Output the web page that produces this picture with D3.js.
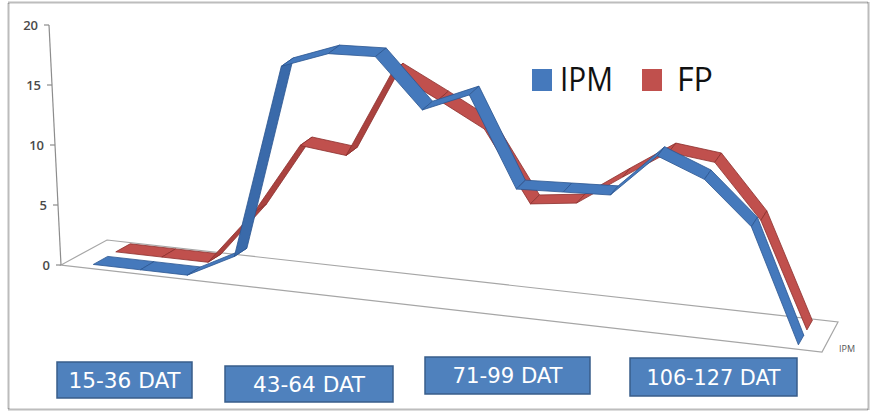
<!DOCTYPE html>
<html>
<head>
<meta charset="utf-8">
<script src="https://cdn.jsdelivr.net/npm/d3@7/dist/d3.min.js"></script>
<style>
  html, body { margin: 0; padding: 0; background: #fff; }
  svg { display: block; }
</style>
</head>
<body>
<svg id="chart" width="877" height="414"></svg>
<script>
// Sampling days (days after transplanting), one per point on each ribbon
const days = [15, 22, 29, 36, 43, 50, 57, 64, 71, 78, 85, 92, 99, 106, 113, 120];

// Series values
const ipm = [0, 0, 0, 2, 18.3, 19.8, 20, 16, 17.7, 10.3, 10.5, 10.7, 14.4, 12.9, 9.4, 0];
const fp  = [0, 0, 0, 4.6, 10.6, 10.2, 17.6, 15.7, 13.7, 7.9, 8.4, 11.0, 13.5, 13.1, 8.7, 0];

const seriesNames = ["IPM", "FP"];
const valueTicks = [0, 5, 10, 15, 20];
const periods = ["15-36 DAT", "43-64 DAT", "71-99 DAT", "106-127 DAT"];

// ---- layout ----
const svg = d3.select("#chart");
const W = 877, H = 414;

// floor of the 3-D plot box: back-left, back-right, front-right, front-left
const floor = {
  BL: [107, 240], BR: [838, 322],
  FR: [822, 352], FL: [61, 265]
};
const axisLean = -0.05;      // sideways drift of the value axis per pixel of height
const ribbonDepth = 0.32;    // width of each ribbon along the depth axis

const palette = {
  IPM: { face: "#4579BC", back: "#3A6AAA", edge: "#2B5690" },
  FP:  { face: "#C0504D", back: "#AA423F", edge: "#8C2F2C" }
};

// scales
const xCat = d3.scalePoint().domain(days).range([0, 1]).padding(0.55);
const zDepth = d3.scaleOrdinal().domain(["FP", "IPM"]).range([0.2, 0.7]);
const yVal = d3.scaleLinear().domain([0, 20]).range([0, 240]);

// point on the floor plane (u along categories, w from back 0 to front 1)
function floorPt(u, w) {
  const bx = floor.BL[0] + (floor.BR[0] - floor.BL[0]) * u;
  const by = floor.BL[1] + (floor.BR[1] - floor.BL[1]) * u;
  const fx = floor.FL[0] + (floor.FR[0] - floor.FL[0]) * u;
  const fy = floor.FL[1] + (floor.FR[1] - floor.FL[1]) * u;
  return [bx + (fx - bx) * w, by + (fy - by) * w];
}
function project(u, w, v) {
  const p = floorPt(u, w);
  return [p[0], p[1] - yVal(v)];
}

// outer dotted frame
svg.append("rect")
  .attr("x", 8.5).attr("y", 2.5).attr("width", 860).attr("height", 407)
  .attr("fill", "#fff")
  .attr("stroke", "#7a7a7a").attr("stroke-width", 2)
  .attr("stroke-dasharray", "1,1");

// floor outline
const floorPoly = [floor.BL, floor.BR, floor.FR, floor.FL];
svg.append("path")
  .attr("d", "M" + floorPoly.map(p => p.join(",")).join("L") + "Z")
  .attr("fill", "none")
  .attr("stroke", "#a6a6a6").attr("stroke-width", 1.2);

// value axis at the front-left corner
const axisG = svg.append("g").attr("class", "value-axis");
function axisPt(v) {
  const h = yVal(v);
  return [floor.FL[0] + axisLean * h, floor.FL[1] - h];
}
const a0 = axisPt(0), a1 = axisPt(20);
axisG.append("line")
  .attr("x1", a0[0]).attr("y1", a0[1]).attr("x2", a1[0]).attr("y2", a1[1])
  .attr("stroke", "#8c8c8c").attr("stroke-width", 1.2);
valueTicks.forEach(t => {
  const p = axisPt(t);
  axisG.append("line")
    .attr("x1", p[0] - 5).attr("y1", p[1]).attr("x2", p[0]).attr("y2", p[1])
    .attr("stroke", "#8c8c8c").attr("stroke-width", 1.2);
  axisG.append("text")
    .attr("x", p[0] - 11).attr("y", p[1])
    .attr("dy", "0.35em")
    .attr("text-anchor", "end")
    .attr("font-family", "'Open Sans', 'Liberation Sans', sans-serif")
    .attr("font-size", 13)
    .attr("font-weight", 600)
    .attr("fill", "#4a4a4a")
    .text(t);
});

// depth-axis label by the front-right corner
svg.append("text")
  .attr("x", 847).attr("y", 349).attr("dy", "0.35em")
  .attr("text-anchor", "middle")
  .attr("font-family", "'Open Sans', 'Liberation Sans', sans-serif")
  .attr("font-size", 9)
  .attr("fill", "#555")
  .text("IPM");

// ribbons: back series first so the front one overlaps it
const series = [
  { name: "FP", values: fp },
  { name: "IPM", values: ipm }
];

series.forEach(s => {
  const w = zDepth(s.name);
  const col = palette[s.name];
  const front = s.values.map((v, i) => project(xCat(days[i]), w + ribbonDepth / 2, v));
  const back  = s.values.map((v, i) => project(xCat(days[i]), w - ribbonDepth / 2, v));
  const g = svg.append("g").attr("class", "ribbon-" + s.name);
  for (let i = 0; i < s.values.length - 1; i++) {
    const quad = [front[i], front[i + 1], back[i + 1], back[i]];
    // which side of the strip faces the viewer
    const ax = quad[1][0] - quad[0][0], ay = quad[1][1] - quad[0][1];
    const bx = quad[3][0] - quad[0][0], by = quad[3][1] - quad[0][1];
    const side = ax * by - ay * bx;
    g.append("path")
      .attr("d", "M" + quad.map(p => p.join(",")).join("L") + "Z")
      .attr("fill", side < 0 ? col.face : col.back)
      .attr("stroke", col.edge)
      .attr("stroke-width", 0.8)
      .attr("stroke-linejoin", "round");
  }
});

// legend
const legend = svg.append("g").attr("class", "legend");
const legendItems = [
  { name: "IPM", sx: 532, tx: 560, tl: 53 },
  { name: "FP",  sx: 642, tx: 677, tl: 36 }
];
legendItems.forEach(d => {
  legend.append("rect")
    .attr("x", d.sx).attr("y", 69).attr("width", 20).attr("height", 22)
    .attr("fill", palette[d.name].face);
  legend.append("text")
    .attr("x", d.tx).attr("y", 91)
    .attr("font-family", "'Open Sans', 'Liberation Sans', sans-serif")
    .attr("font-size", 33)
    .attr("textLength", d.tl)
    .attr("lengthAdjust", "spacingAndGlyphs")
    .attr("fill", "#111")
    .text(d.name);
});

// period boxes under the plot
const boxLayout = [
  { x: 57,  y: 362, w: 135, h: 36, tl: 112 },
  { x: 225, y: 366, w: 168, h: 36, tl: 112 },
  { x: 425, y: 357, w: 165, h: 37, tl: 110 },
  { x: 630, y: 358, w: 167, h: 38, tl: 134 }
];
const boxes = svg.append("g").attr("class", "periods");
periods.forEach((label, i) => {
  const b = boxLayout[i];
  boxes.append("rect")
    .attr("x", b.x).attr("y", b.y).attr("width", b.w).attr("height", b.h)
    .attr("fill", "#4F81BD")
    .attr("stroke", "#385D8A").attr("stroke-width", 1.5);
  boxes.append("text")
    .attr("x", b.x + b.w / 2).attr("y", b.y + b.h / 2)
    .attr("dy", "0.36em")
    .attr("text-anchor", "middle")
    .attr("font-family", "'DejaVu Sans Condensed', 'Liberation Sans Narrow', 'Open Sans', sans-serif")
    .attr("font-size", 22)
    .attr("textLength", b.tl)
    .attr("lengthAdjust", "spacingAndGlyphs")
    .attr("fill", "#fff")
    .text(label);
});
</script>
</body>
</html>
